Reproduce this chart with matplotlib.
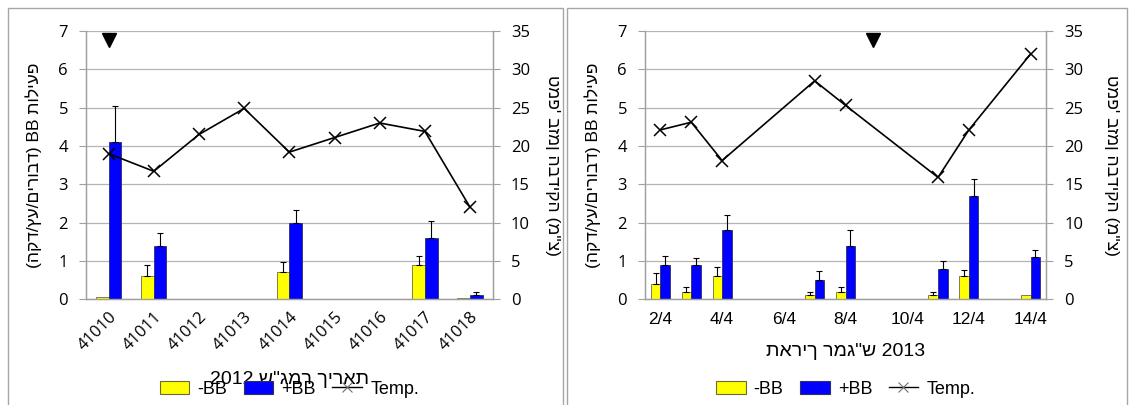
import matplotlib
matplotlib.use('Agg')
import matplotlib.pyplot as plt
from matplotlib.patches import Rectangle, Patch
from matplotlib.lines import Line2D
import numpy as np

plt.rcParams['font.family'] = ['Liberation Sans', 'DejaVu Sans']

# ---------------- data: 2012 panel ----------------
cats_2012 = ['41010', '41011', '41012', '41013', '41014', '41015', '41016', '41017', '41018']
minus_bb_2012 = [0.05, 0.6, 0, 0, 0.7, 0, 0, 0.9, 0.03]
minus_bb_err_2012 = [0, 0.3, 0, 0, 0.27, 0, 0, 0.22, 0]
plus_bb_2012 = [4.1, 1.4, 0, 0, 2.0, 0, 0, 1.6, 0.1]
plus_bb_err_2012 = [0.95, 0.34, 0, 0, 0.32, 0, 0, 0.43, 0.1]
temp_2012 = [19.0, 16.7, 21.5, 24.9, 19.2, 21.1, 23.0, 21.9, 12.0]
event_2012 = ([0], [6.77])

# ---------------- data: 2013 panel ----------------
days_2013 = [2, 3, 4, 7, 8, 11, 12, 14]
minus_bb_2013 = [0.4, 0.2, 0.6, 0.1, 0.2, 0.1, 0.6, 0.1]
minus_bb_err_2013 = [0.28, 0.13, 0.23, 0.08, 0.13, 0.08, 0.17, 0]
plus_bb_2013 = [0.9, 0.9, 1.8, 0.5, 1.4, 0.8, 2.7, 1.1]
plus_bb_err_2013 = [0.23, 0.17, 0.39, 0.23, 0.4, 0.19, 0.43, 0.18]
temp_2013 = [22.1, 23.1, 18.1, 28.5, 25.3, 15.9, 22.1, 32.0]
tick_days_2013 = [2, 4, 6, 8, 10, 12, 14]
tick_labels_2013 = ['2/4', '4/4', '6/4', '8/4', '10/4', '12/4', '14/4']
event_2013 = ([8.9], [6.77])

ylabel_left = '(הקד/ץע/םירובד) BB תוליעפ'
ylabel_right = 'טמפ\' בזמן הבדיקה (מ"צ)'
xlabel_2012 = '2012 ש"גמר ךיראת'
xlabel_2013 = 'תאריך רמג"ש 2013'

YELLOW = '#ffff00'
BLUE = '#0000ff'
GRID = '#b4b4b4'
SPINE = '#a0a0a0'
NUMFONT = ['Open Sans', 'DejaVu Sans']

W, H = 1130, 405
fig = plt.figure(figsize=(W / 100, H / 100), dpi=100)

# panel frames
for x0, x1 in [(8, 563), (567, 1127)]:
    fig.patches.append(Rectangle((x0 / W, -0.05), (x1 - x0) / W, 1.05 - 8 / H,
                                 transform=fig.transFigure, fill=False,
                                 edgecolor='#a6a6a6', lw=1.0))


def style_axes(ax, ax2, lpad, rpad):
    ax.set_ylim(0, 7)
    ax.set_yticks(range(0, 8))
    ax2.set_ylim(0, 35)
    ax2.set_yticks(range(0, 36, 5))
    ax.grid(axis='y', color=GRID, lw=0.9)
    ax.set_axisbelow(True)
    for a in (ax, ax2):
        for s in a.spines.values():
            s.set_color(SPINE)
            s.set_linewidth(0.9)
        a.spines['top'].set_visible(False)
        a.tick_params(axis='y', direction='out', length=5, color=SPINE,
                      labelsize=12, pad=8)
        for t in a.get_yticklabels():
            t.set_fontfamily(NUMFONT)
    ax.tick_params(axis='x', length=0)
    ax.set_ylabel(ylabel_left, fontsize=12.5, labelpad=lpad)
    ax2.set_ylabel(ylabel_right, fontsize=12.5, rotation=270, labelpad=rpad)


def draw_bars(ax, x, minus, minus_err, plus, plus_err, width):
    x = np.asarray(x, dtype=float)
    xm = x - width / 2
    xp = x + width / 2
    ax.bar(xm, minus, width, color=YELLOW, edgecolor='#6b6b3a', lw=0.6, zorder=2)
    ax.bar(xp, plus, width, color=BLUE, edgecolor='#303060', lw=0.6, zorder=2)
    for xs, vals, errs in [(xm, minus, minus_err), (xp, plus, plus_err)]:
        vals = np.asarray(vals, dtype=float)
        errs = np.asarray(errs, dtype=float)
        m = errs > 0
        ax.errorbar(xs[m], vals[m], yerr=[np.zeros(m.sum()), errs[m]], fmt='none',
                    ecolor='black', elinewidth=0.8, capsize=2.5, capthick=0.8, zorder=3)


ax_pos = [(86 / W, 1 - 299.3 / H, (492.7 - 86) / W, (299.3 - 31) / H),
          (645 / W, 1 - 299.3 / H, (1046 - 645) / W, (299.3 - 31) / H)]

# ---------------- left panel ----------------
axL = fig.add_axes(ax_pos[0])
axL2 = axL.twinx()
xL = np.arange(len(cats_2012))
draw_bars(axL, xL, minus_bb_2012, minus_bb_err_2012, plus_bb_2012, plus_bb_err_2012, 0.28)
axL2.plot(xL, temp_2012, color='black', lw=1.2, marker='x', ms=8, mew=1.1, zorder=4)
axL.plot(event_2012[0], event_2012[1], marker='v', color='black', ms=10, ls='none')
axL.set_xlim(-0.5, len(cats_2012) - 0.5)
axL.set_xticks(xL)
axL.set_xticklabels(cats_2012, rotation=45, ha='right', rotation_mode='anchor',
                    fontsize=12, family=NUMFONT)
style_axes(axL, axL2, 12, 22)
axL.tick_params(axis='x', pad=7)

# ---------------- right panel ----------------
axR = fig.add_axes(ax_pos[1])
axR2 = axR.twinx()
draw_bars(axR, days_2013, minus_bb_2013, minus_bb_err_2013, plus_bb_2013, plus_bb_err_2013, 0.31)
axR2.plot(days_2013, temp_2013, color='black', lw=1.2, marker='x', ms=8, mew=1.1, zorder=4)
axR.plot(event_2013[0], event_2013[1], marker='v', color='black', ms=10, ls='none')
axR.set_xlim(1.5, 14.5)
axR.set_xticks(tick_days_2013)
axR.set_xticklabels(tick_labels_2013, fontsize=12.5)
style_axes(axR, axR2, 12, 26)
axR.tick_params(axis='x', pad=9)

# x labels
fig.text((86 + 492.7) / 2 / W, 1 - 379 / H, xlabel_2012, ha='center', va='center', fontsize=14)
fig.text((645 + 1046) / 2 / W, 1 - 351 / H, xlabel_2013, ha='center', va='center', fontsize=14)

# legends
handles = [Patch(facecolor=YELLOW, edgecolor='#6b6b3a', lw=0.8),
           Patch(facecolor=BLUE, edgecolor='#303060', lw=0.8),
           Line2D([], [], color='black', lw=1.0, marker='x', ms=7, mew=0.8,
                  markeredgecolor='#707070')]
labels = ['-BB', '+BB', 'Temp.']
for cx in [(86 + 492.7) / 2 / W, (645 + 1046) / 2 / W]:
    fig.legend(handles, labels, loc='center', bbox_to_anchor=(cx, 1 - 389 / H), ncol=3,
               frameon=False, fontsize=13, handlelength=1.65, handleheight=0.75,
               columnspacing=0.9, handletextpad=0.45, borderpad=0.2)

fig.savefig('out.png', dpi=100)
